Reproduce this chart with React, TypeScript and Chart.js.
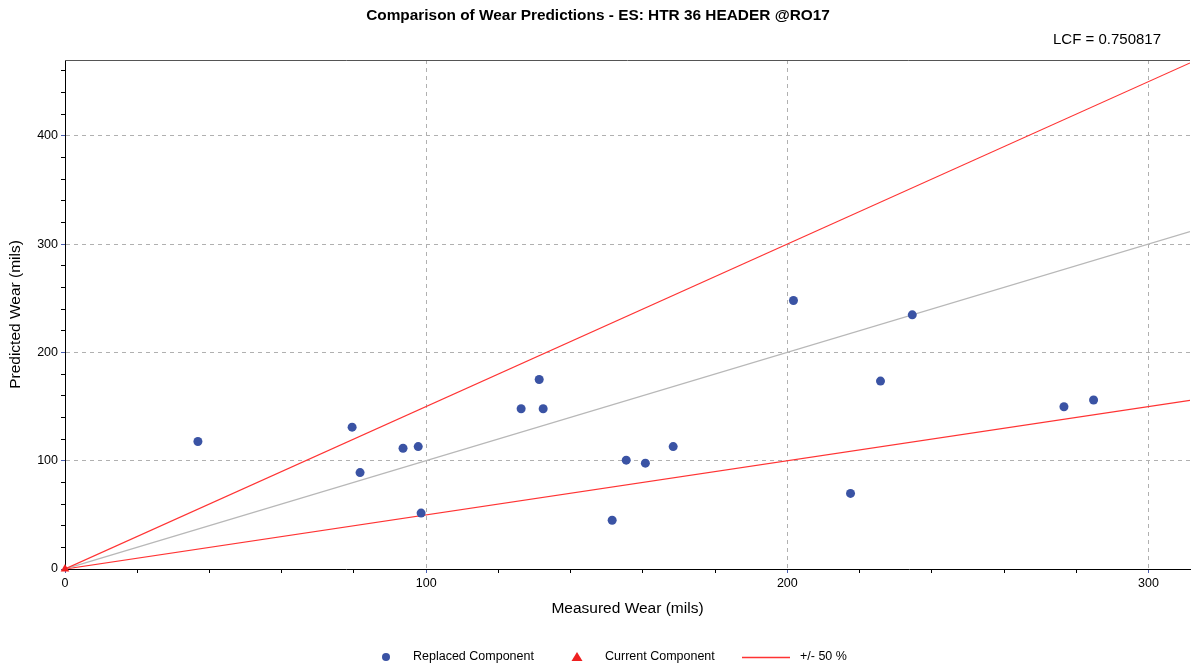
import React, { useEffect, useRef } from "react";
import { Chart, registerables } from "chart.js";

Chart.register(...registerables);

const chartTitle = "Comparison of Wear Predictions - ES: HTR 36 HEADER @RO17";
const lcfText = "LCF = 0.750817";
const xTitle = "Measured Wear (mils)";
const yTitle = "Predicted Wear (mils)";

const replacedMeasured = [36.8, 79.5, 81.7, 93.6, 97.8, 98.6, 126.3, 131.3, 132.4, 151.5, 155.4, 160.7, 168.4, 201.7, 217.5, 225.8, 234.6, 276.6, 284.8];
const replacedPredicted = [117.7, 131, 89, 111.5, 113, 51.6, 148, 175, 148, 45, 100.5, 97.7, 113, 247.9, 69.8, 173.5, 234.7, 149.8, 156];

const currentMeasured = [0];
const currentPredicted = [0];

const refX = [0, 311.5];
const upperY = [0, 467.3];
const equalY = [0, 311.5];
const lowerY = [0, 155.8];

const xMax = 311.5;
const yMax = 470;
const tickStep = 20;
const labelStep = 100;

const legendLabels = ["Replaced Component", "Current Component", "+/- 50 %"];

const BLUE = "#3a53a4";
const RED = "#ff3333";
const GRAY = "#b8b8b8";
const FONT = "'Liberation Sans', Arial, sans-serif";

const pairs = (xs: number[], ys: number[]) => xs.map((x, i) => ({ x, y: ys[i] }));

const decorPlugin = {
  id: "decor",
  afterDraw(chart: any) {
    const { ctx, chartArea } = chart;
    ctx.save();
    // top border
    ctx.strokeStyle = "#555555";
    ctx.lineWidth = 1;
    ctx.beginPath();
    ctx.moveTo(chartArea.left, chartArea.top + 0.5);
    ctx.lineTo(chartArea.right, chartArea.top + 0.5);
    ctx.stroke();
    // title
    ctx.fillStyle = "#000";
    ctx.font = `bold 15.4px ${FONT}`;
    ctx.textAlign = "center";
    ctx.textBaseline = "middle";
    ctx.fillText(chartTitle, 598, 16);
    // LCF
    ctx.font = `15px ${FONT}`;
    ctx.textAlign = "right";
    ctx.fillText(lcfText, 1161, 40);
    // legend
    const ly = 657;
    ctx.font = `12.5px ${FONT}`;
    ctx.textAlign = "left";
    ctx.fillStyle = BLUE;
    ctx.beginPath();
    ctx.arc(386, ly, 4, 0, Math.PI * 2);
    ctx.fill();
    ctx.fillStyle = "#000";
    ctx.fillText(legendLabels[0], 413, ly);
    ctx.fillStyle = "#ee2020";
    ctx.beginPath();
    ctx.moveTo(577, ly - 5);
    ctx.lineTo(582.5, ly + 4);
    ctx.lineTo(571.5, ly + 4);
    ctx.closePath();
    ctx.fill();
    ctx.fillStyle = "#000";
    ctx.fillText(legendLabels[1], 605, ly);
    ctx.strokeStyle = RED;
    ctx.lineWidth = 1.5;
    ctx.beginPath();
    ctx.moveTo(742, ly + 0.5);
    ctx.lineTo(790, ly + 0.5);
    ctx.stroke();
    ctx.fillText(legendLabels[2], 800, ly);
    ctx.restore();
  },
};

export default function App() {
  const ref = useRef<HTMLCanvasElement | null>(null);
  useEffect(() => {
    if (!ref.current) return;
    const tickFont = { family: FONT, size: 12.5 };
    const gridColor = (c: any) =>
      c.tick && c.tick.value % labelStep === 0 && c.tick.value !== 0 ? "#b0b0b0" : "rgba(0,0,0,0)";
    const tickColor = (c: any) => (c.tick && c.tick.value % labelStep === 0 ? "#4a5fb0" : "#000");
    const chart = new Chart(ref.current, {
      type: "scatter",
      data: {
        datasets: [
          {
            label: legendLabels[0],
            data: pairs(replacedMeasured, replacedPredicted),
            backgroundColor: BLUE,
            borderColor: BLUE,
            pointRadius: 4.5,
            pointBorderWidth: 0,
            pointStyle: "circle",
          },
          {
            label: legendLabels[1],
            data: pairs(currentMeasured, currentPredicted),
            backgroundColor: "#ee2020",
            borderColor: "#ee2020",
            pointRadius: 5,
            pointBorderWidth: 0,
            pointStyle: "triangle",
            clip: false,
          },
          {
            label: legendLabels[2],
            data: pairs(refX, upperY),
            showLine: true,
            borderColor: RED,
            borderWidth: 1.2,
            pointRadius: 0,
          },
          {
            label: "equal",
            data: pairs(refX, equalY),
            showLine: true,
            borderColor: GRAY,
            borderWidth: 1.2,
            pointRadius: 0,
          },
          {
            label: "lower",
            data: pairs(refX, lowerY),
            showLine: true,
            borderColor: RED,
            borderWidth: 1.2,
            pointRadius: 0,
          },
        ],
      },
      options: {
        responsive: false,
        animation: false,
        layout: { autoPadding: false, padding: { top: 60, right: 1, left: 2, bottom: 49 } },
        plugins: { legend: { display: false }, title: { display: false }, tooltip: { enabled: false } },
        scales: {
          x: {
            type: "linear",
            min: 0,
            max: xMax,
            afterFit: (s: any) => {
              s.height = 53;
              s.paddingLeft = 0;
              s.paddingRight = 0;
            },
            ticks: {
              stepSize: tickStep,
              includeBounds: false,
              autoSkip: false,
              maxRotation: 0,
              padding: 3,
              color: "#000",
              font: tickFont,
              callback: (v: any) => (Number(v) % labelStep === 0 ? String(v) : ""),
            },
            grid: { color: gridColor, tickColor, tickLength: 4, lineWidth: 1 },
            border: { color: "#000", width: 1, dash: [4, 4] },
            title: { display: true, text: xTitle, color: "#000", font: { family: FONT, size: 15.5 } },
          },
          y: {
            type: "linear",
            min: 0,
            max: yMax,
            afterFit: (s: any) => {
              s.width = 63;
              s.paddingTop = 0;
              s.paddingBottom = 0;
            },
            ticks: {
              stepSize: tickStep,
              includeBounds: false,
              autoSkip: false,
              padding: 3,
              color: "#000",
              font: tickFont,
              callback: (v: any) => (Number(v) % labelStep === 0 ? String(v) : ""),
            },
            grid: { color: gridColor, tickColor, tickLength: 4, lineWidth: 1 },
            border: { color: "#000", width: 1, dash: [4, 4] },
            title: { display: true, text: yTitle, color: "#000", font: { family: FONT, size: 15.5 } },
          },
        },
      },
      plugins: [decorPlugin],
    } as any);
    return () => chart.destroy();
  }, []);
  return (
    <div style={{ position: "absolute", left: 0, top: 0, width: 1191, height: 671, background: "#fff" }}>
      <canvas ref={ref} width={1191} height={671} style={{ display: "block" }} />
    </div>
  );
}
